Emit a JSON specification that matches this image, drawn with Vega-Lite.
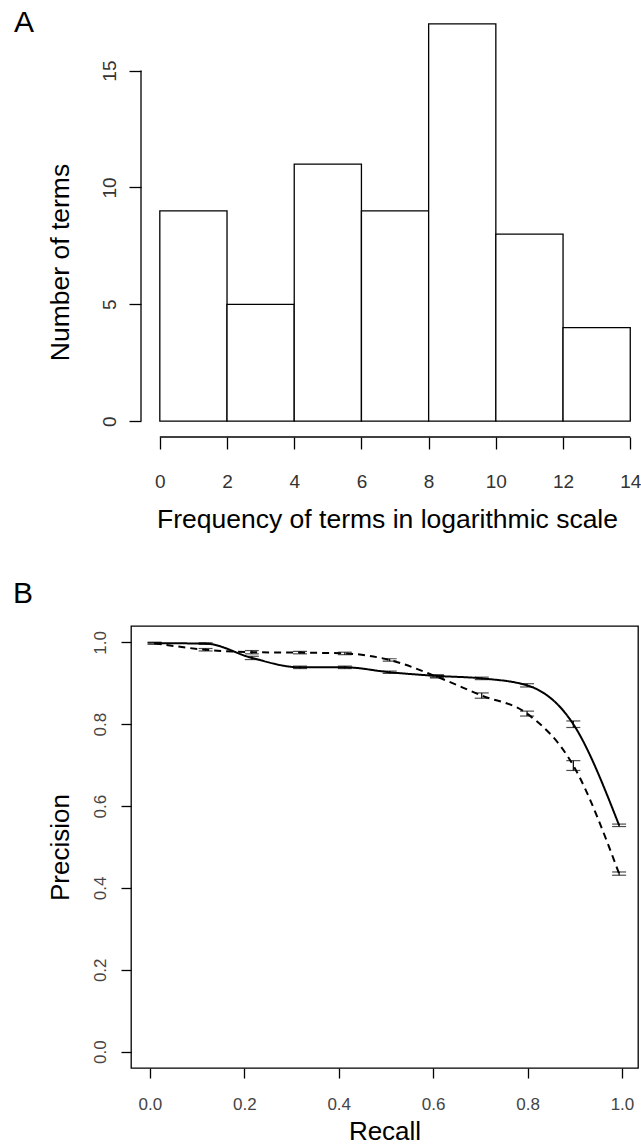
{
  "$schema": "https://vega.github.io/schema/vega-lite/v6.json",
  "padding": {"left": 12, "top": 8, "right": 0, "bottom": 0},
  "background": "white",
  "spacing": 45,
  "datasets": {
    "hist": [
      {"lo": 0, "hi": 2, "count": 9},
      {"lo": 2, "hi": 4, "count": 5},
      {"lo": 4, "hi": 6, "count": 11},
      {"lo": 6, "hi": 8, "count": 9},
      {"lo": 8, "hi": 10, "count": 17},
      {"lo": 10, "hi": 12, "count": 8},
      {"lo": 12, "hi": 14, "count": 4}
    ],
    "pr": [
      {"method": "Method 1", "recall": 0.01, "precision": 0.998, "lo": 0.996, "hi": 1.0},
      {"method": "Method 1", "recall": 0.118, "precision": 0.997, "lo": 0.995, "hi": 0.999},
      {"method": "Method 1", "recall": 0.216, "precision": 0.962, "lo": 0.958, "hi": 0.966},
      {"method": "Method 1", "recall": 0.318, "precision": 0.939, "lo": 0.936, "hi": 0.942},
      {"method": "Method 1", "recall": 0.413, "precision": 0.939, "lo": 0.936, "hi": 0.942},
      {"method": "Method 1", "recall": 0.508, "precision": 0.927, "lo": 0.924, "hi": 0.930},
      {"method": "Method 1", "recall": 0.608, "precision": 0.918, "lo": 0.915, "hi": 0.921},
      {"method": "Method 1", "recall": 0.703, "precision": 0.912, "lo": 0.909, "hi": 0.915},
      {"method": "Method 1", "recall": 0.799, "precision": 0.895, "lo": 0.891, "hi": 0.899},
      {"method": "Method 1", "recall": 0.897, "precision": 0.800, "lo": 0.792, "hi": 0.808},
      {"method": "Method 1", "recall": 0.994, "precision": 0.553, "lo": 0.550, "hi": 0.556},
      {"method": "Method 2", "recall": 0.01, "precision": 0.998, "lo": 0.996, "hi": 1.0},
      {"method": "Method 2", "recall": 0.118, "precision": 0.982, "lo": 0.979, "hi": 0.985},
      {"method": "Method 2", "recall": 0.216, "precision": 0.976, "lo": 0.972, "hi": 0.980},
      {"method": "Method 2", "recall": 0.318, "precision": 0.975, "lo": 0.972, "hi": 0.978},
      {"method": "Method 2", "recall": 0.413, "precision": 0.973, "lo": 0.970, "hi": 0.976},
      {"method": "Method 2", "recall": 0.508, "precision": 0.957, "lo": 0.954, "hi": 0.960},
      {"method": "Method 2", "recall": 0.608, "precision": 0.916, "lo": 0.913, "hi": 0.919},
      {"method": "Method 2", "recall": 0.703, "precision": 0.870, "lo": 0.8635, "hi": 0.8765},
      {"method": "Method 2", "recall": 0.799, "precision": 0.826, "lo": 0.820, "hi": 0.832},
      {"method": "Method 2", "recall": 0.897, "precision": 0.699, "lo": 0.687, "hi": 0.711},
      {"method": "Method 2", "recall": 0.994, "precision": 0.435, "lo": 0.431, "hi": 0.439}
    ],
    "axlines": [
      {"xa": -0.56, "xb": -0.56, "ya": 0, "yb": 15},
      {"xa": 0, "xb": 14, "ya": -0.68, "yb": -0.68}
    ]
  },
  "vconcat": [
    {
      "title": {"text": "A", "anchor": "start", "frame": "group", "orient": "top", "fontSize": 30, "fontWeight": "normal", "font": "Liberation Sans", "color": "black", "baseline": "alphabetic", "offset": 0, "dx": -117, "dy": 54},
      "width": 509,
      "height": 429,
      "view": {"stroke": null},
      "layer": [
        {
          "data": {"name": "hist"},
          "mark": {"type": "rect", "fill": "white", "stroke": "black", "strokeWidth": 1.3},
          "encoding": {
            "x": {"field": "lo", "type": "quantitative", "scale": {"domain": [-0.8576, 14.29], "nice": false, "zero": false},
              "axis": {"values": [0, 2, 4, 6, 8, 10, 12, 14], "domain": false, "tickSize": 12, "tickColor": "black", "tickWidth": 1.3, "labelPadding": 23, "labelFontSize": 19, "labelColor": "#333", "labelFlush": false, "labelOverlap": false, "grid": false,
                "title": "Frequency of terms in logarithmic scale", "titleFontSize": 26.5, "titleFontWeight": "normal", "titleColor": "black", "titleX": 256, "titleY": 90, "titleBaseline": "alphabetic", "titleAlign": "center"}},
            "x2": {"field": "hi"},
            "y": {"field": "count", "type": "quantitative", "scale": {"domain": [-0.68, 17.68], "nice": false, "zero": false},
              "axis": {"values": [0, 5, 10, 15], "offset": -10, "domain": false, "tickSize": 12, "tickColor": "black", "tickWidth": 1.3, "labelAngle": -90, "labelAlign": "center", "labelBaseline": "bottom", "labelPadding": 10, "labelFontSize": 19, "labelColor": "#333", "labelFlush": false, "labelOverlap": false, "grid": false,
                "title": "Number of terms", "titleFontSize": 26.5, "titleFontWeight": "normal", "titleColor": "black", "titleAngle": -90, "titleX": -73, "titleY": 254, "titleBaseline": "alphabetic", "titleAlign": "center"}},
            "y2": {"datum": 0}
          }
        },
        {
          "data": {"name": "axlines"},
          "mark": {"type": "rule", "color": "black", "strokeWidth": 1.3},
          "encoding": {
            "x": {"field": "xa", "type": "quantitative"},
            "x2": {"field": "xb"},
            "y": {"field": "ya", "type": "quantitative"},
            "y2": {"field": "yb"}
          }
        }
      ]
    },
    {
      "title": {"text": "B", "anchor": "start", "frame": "group", "orient": "top", "fontSize": 30, "fontWeight": "normal", "font": "Liberation Sans", "color": "black", "baseline": "alphabetic", "offset": 0, "dx": -118, "dy": 7},
      "width": 507,
      "height": 442,
      "view": {"stroke": "black", "strokeWidth": 1.3},
      "data": {"name": "pr"},
      "layer": [
        {
          "mark": {"type": "line", "color": "black", "strokeWidth": 2, "interpolate": "monotone"},
          "encoding": {
            "x": {"field": "recall", "type": "quantitative", "scale": {"domain": [-0.04, 1.034], "nice": false, "zero": false},
              "axis": {"values": [0, 0.2, 0.4, 0.6, 0.8, 1.0], "format": ".1f", "domain": false, "tickSize": 10, "tickColor": "black", "tickWidth": 1.3, "labelPadding": 18.5, "labelFontSize": 17, "labelColor": "#444", "labelFlush": false, "labelOverlap": false, "grid": false,
                "title": "Recall", "titleFontSize": 26, "titleFontWeight": "normal", "titleColor": "black", "titleY": 71, "titleBaseline": "alphabetic", "titleAlign": "center"}},
            "y": {"field": "precision", "type": "quantitative", "scale": {"domain": [-0.04, 1.04], "nice": false, "zero": false},
              "axis": {"values": [0, 0.2, 0.4, 0.6, 0.8, 1.0], "format": ".1f", "domain": false, "tickSize": 10, "tickColor": "black", "tickWidth": 1.3, "labelAngle": -90, "labelAlign": "center", "labelBaseline": "bottom", "labelPadding": 12, "labelFontSize": 17, "labelColor": "#444", "labelFlush": false, "labelOverlap": false, "grid": false,
                "title": "Precision", "titleFontSize": 26, "titleFontWeight": "normal", "titleColor": "black", "titleAngle": -90, "titleX": -63, "titleY": 221, "titleBaseline": "alphabetic", "titleAlign": "center"}},
            "strokeDash": {"field": "method", "type": "nominal", "scale": {"domain": ["Method 1", "Method 2"], "range": [[1, 0], [7, 5]]}, "legend": null}
          }
        },
        {
          "mark": {"type": "rule", "color": "black", "strokeWidth": 1.2},
          "encoding": {
            "x": {"field": "recall", "type": "quantitative"},
            "y": {"field": "lo", "type": "quantitative"},
            "y2": {"field": "hi"}
          }
        },
        {
          "mark": {"type": "tick", "orient": "horizontal", "size": 14, "thickness": 1.2, "color": "black"},
          "encoding": {
            "x": {"field": "recall", "type": "quantitative"},
            "y": {"field": "lo", "type": "quantitative"}
          }
        },
        {
          "mark": {"type": "tick", "orient": "horizontal", "size": 14, "thickness": 1.2, "color": "black"},
          "encoding": {
            "x": {"field": "recall", "type": "quantitative"},
            "y": {"field": "hi", "type": "quantitative"}
          }
        }
      ]
    }
  ],
  "config": {
    "font": "Liberation Sans",
    "axis": {"labelFont": "Liberation Sans", "titleFont": "Liberation Sans"}
  }
}
